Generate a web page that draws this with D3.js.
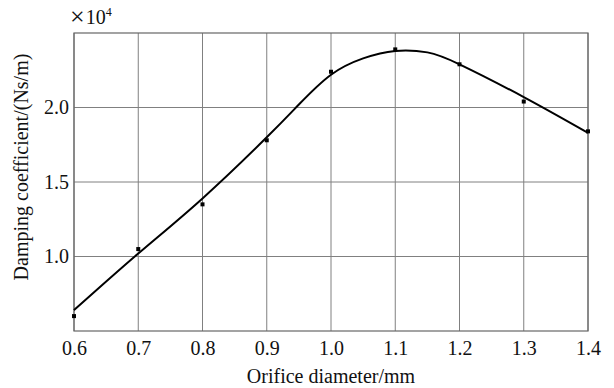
<!DOCTYPE html>
<html>
<head>
<meta charset="utf-8">
<script src="https://cdn.jsdelivr.net/npm/d3@7"></script>
<style>
  body { margin: 0; background: #fff; }
  text { font-family: "Liberation Serif", "Times New Roman", serif; fill: #111; }
</style>
</head>
<body>
<div id="chart"></div>
<script>
// measured points (orifice diameter in mm, damping x10^4 Ns/m)
let diameters = [0.6, 0.7, 0.8, 0.9, 1.0, 1.1, 1.2, 1.3, 1.4];
let damping = [0.60, 1.05, 1.35, 1.78, 2.24, 2.39, 2.29, 2.04, 1.84];

// fitted curve
let fitX = [0.6, 0.7, 0.8, 0.9, 0.95, 1.0, 1.05, 1.1, 1.15, 1.2, 1.3, 1.4];
let fitY = [0.64, 1.02, 1.39, 1.80, 2.02, 2.22, 2.33, 2.38, 2.37, 2.29, 2.07, 1.83];

let xTicks = [0.6, 0.7, 0.8, 0.9, 1.0, 1.1, 1.2, 1.3, 1.4];
let yTicks = [1.0, 1.5, 2.0];

let margin = { top: 33, right: 26, bottom: 57, left: 74 };
let width = 614 - margin.left - margin.right;
let height = 388 - margin.top - margin.bottom;

let svg = d3.select("#chart")
	.append("svg")
	.attr("width", 614)
	.attr("height", 388);

let g = svg.append("g")
	.attr("transform", "translate(" + margin.left + "," + margin.top + ")");

let xScale = d3.scaleLinear().domain([0.6, 1.4]).range([0, width]);
let yScale = d3.scaleLinear().domain([0.5, 2.5]).range([height, 0]);

// grid
g.append("g")
	.selectAll("line")
	.data(xTicks)
	.enter().append("line")
	.attr("x1", d => xScale(d)).attr("x2", d => xScale(d))
	.attr("y1", 0).attr("y2", height)
	.attr("stroke", "#808080").attr("stroke-width", 1);

g.append("g")
	.selectAll("line")
	.data(yTicks)
	.enter().append("line")
	.attr("x1", 0).attr("x2", width)
	.attr("y1", d => yScale(d)).attr("y2", d => yScale(d))
	.attr("stroke", "#808080").attr("stroke-width", 1);

g.append("rect")
	.attr("width", width).attr("height", height)
	.attr("fill", "none")
	.attr("stroke", "#666").attr("stroke-width", 1.2);

// axes (labels only)
let xAxis = g.append("g")
	.attr("transform", "translate(0," + height + ")")
	.call(d3.axisBottom(xScale).tickValues(xTicks).tickFormat(d3.format(".1f")).tickSize(0).tickPadding(10));
xAxis.select(".domain").remove();
xAxis.selectAll("text").style("font-size", "20px").attr("fill", "#111");

let yAxis = g.append("g")
	.call(d3.axisLeft(yScale).tickValues(yTicks).tickFormat(d3.format(".1f")).tickSize(0).tickPadding(5));
yAxis.select(".domain").remove();
yAxis.selectAll("text").style("font-size", "20px").attr("fill", "#111");

// fitted line
let line = d3.line()
	.x(function (d, i) { return xScale(fitX[i]); })
	.y(function (d) { return yScale(d); })
	.curve(d3.curveNatural);

g.append("path")
	.datum(fitY)
	.attr("d", line)
	.attr("fill", "none")
	.attr("stroke", "#000")
	.attr("stroke-width", 2);

// points
g.selectAll(".pt")
	.data(damping)
	.enter().append("rect")
	.attr("class", "pt")
	.attr("x", function (d, i) { return xScale(diameters[i]) - 2; })
	.attr("y", function (d) { return yScale(d) - 2; })
	.attr("width", 4).attr("height", 4)
	.attr("fill", "#000");

// labels
svg.append("text")
	.attr("x", 331).attr("y", 383)
	.attr("text-anchor", "middle")
	.style("font-size", "20px")
	.text("Orifice diameter/mm");

svg.append("text")
	.attr("transform", "translate(28,167) rotate(-90)")
	.attr("text-anchor", "middle")
	.style("font-size", "20px")
	.text("Damping coefficient/(Ns/m)");

let exp = svg.append("text")
	.attr("x", 70).attr("y", 24)
	.style("font-size", "20px");
exp.append("tspan").style("font-size", "26px").attr("dy", 1).text("×");
exp.append("tspan").attr("dx", 1).attr("dy", -1).text("10");
exp.append("tspan").attr("dy", -8).style("font-size", "12px").text("4");
</script>
</body>
</html>
